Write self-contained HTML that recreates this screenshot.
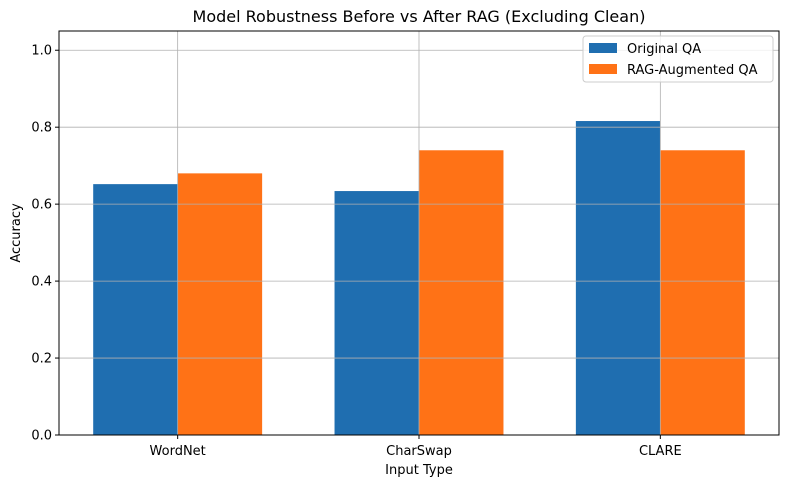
<!DOCTYPE html>
<html><head><meta charset="utf-8"><style>
body{margin:0;background:#fff;font-family:"Liberation Sans","DejaVu Sans",sans-serif;}
</style></head><body>
<svg id="chart" width="785" height="482" xmlns="http://www.w3.org/2000/svg" font-family="DejaVu Sans, Liberation Sans, sans-serif">
<text x="419" y="22" text-anchor="middle" font-size="16" fill="#000">Model Robustness Before vs After RAG (Excluding Clean)</text>
<g id="grid"></g>
<g id="bars"></g>
<g id="gridtop"></g>
<rect x="59" y="31" width="720" height="404" fill="none" stroke="#000" stroke-width="1"/>
<g id="ticks"></g>
<text x="419" y="474" text-anchor="middle" font-size="13">Input Type</text>
<text transform="translate(20,233) rotate(-90)" text-anchor="middle" font-size="13">Accuracy</text>
<g>
<rect x="583" y="36" width="190" height="46" rx="3" fill="#fff" fill-opacity="0.8" stroke="#ccc"/>
<g>
<rect x="589" y="43" width="28" height="10" fill="#1f6eb0"/>
<text x="627" y="53" font-size="13">Original QA</text></g>
<g>
<rect x="589" y="64" width="28" height="10" fill="#ff7216"/>
<text x="627" y="74" font-size="13">RAG-Augmented QA</text></g>
</g>
</svg>
<script>
const categories=["WordNet","CharSwap","CLARE"];
const originalQA=[0.652,0.634,0.816];
const ragQA=[0.680,0.740,0.740];
const yTicks=[0,0.2,0.4,0.6,0.8,1.0];
const yTickLabels=["0.0","0.2","0.4","0.6","0.8","1.0"];
const NS="http://www.w3.org/2000/svg";
const L=59,R=779,T=31,B=435;
const xmin=-0.4917,xmax=2.4917,ymax=1.05;
const xs=v=>L+(v-xmin)/(xmax-xmin)*(R-L);
const ys=v=>B-v/ymax*(B-T);
const bw=0.35;
function mk(tag,attrs,parent){const e=document.createElementNS(NS,tag);for(const k in attrs)e.setAttribute(k,attrs[k]);document.getElementById(parent).appendChild(e);return e;}
categories.forEach((c,i)=>{
  const a=mk('rect',{x:xs(i-bw),y:ys(originalQA[i]),width:xs(i)-xs(i-bw),height:B-ys(originalQA[i]),fill:'#1f6eb0'},'bars');
  
  
  const b=mk('rect',{x:xs(i),y:ys(ragQA[i]),width:xs(i+bw)-xs(i),height:B-ys(ragQA[i]),fill:'#ff7216'},'bars');
  
  
  const g=mk('line',{x1:xs(i),x2:xs(i),y1:T,y2:B,stroke:'#b0b0b0','stroke-width':0.8},'gridtop');
  
  
  mk('line',{x1:xs(i),x2:xs(i),y1:B,y2:B+4,stroke:'#000'},'ticks');
  const t=mk('text',{x:xs(i),y:B+20,'text-anchor':'middle','font-size':13},'ticks');
  t.textContent=c;
  
  
});
yTicks.forEach((v,i)=>{
  const g=mk('line',{x1:L,x2:R,y1:ys(v),y2:ys(v),stroke:'#b0b0b0','stroke-width':0.8},'gridtop');
  
  
  mk('line',{x1:L-4,x2:L,y1:ys(v),y2:ys(v),stroke:'#000'},'ticks');
  const t=mk('text',{x:L-7,y:ys(v)+4.5,'text-anchor':'end','font-size':13},'ticks');
  t.textContent=yTickLabels[i];
  
  
});
</script>
</body></html>
